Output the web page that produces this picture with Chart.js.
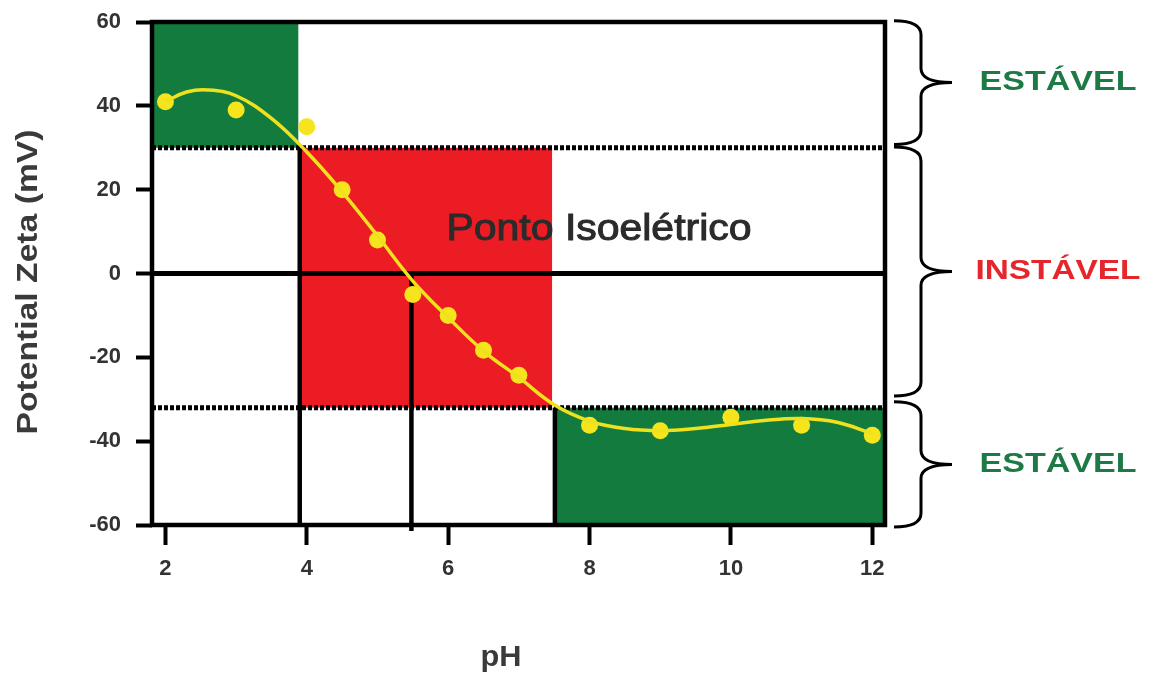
<!DOCTYPE html>
<html>
<head>
<meta charset="utf-8">
<script src="https://cdn.jsdelivr.net/npm/chart.js@4"></script>
<style>
  body { margin: 0; background: #fff; }
  #wrap { width: 1150px; height: 676px; }
</style>
</head>
<body>
<div id="wrap"><canvas id="chart"></canvas></div>
<script>
// measured points
const phPoints = [2, 3, 4, 4.5, 5, 5.5, 6, 6.5, 7, 8, 9, 10, 11, 12];
const zetaPoints = [41, 39, 35, 20, 8, -5, -10, -18.3, -24.3, -36.2, -37.5, -34.3, -36.2, -38.6];

// fitted curve
const phFit = [2, 2.3, 2.6, 3, 3.5, 4, 4.5, 5, 5.5, 6, 6.5, 7, 7.5, 8, 8.5, 9, 9.5, 10, 10.5, 11, 11.5, 12];
const zetaFit = [41, 43.3, 43.8, 42.4, 37, 29, 19.5, 9, -1.8, -10.5, -18.5, -24.8, -31.3, -35.2, -37, -37.5, -37, -36, -35, -34.6, -35.5, -38.2];

const xTicks = [2, 4, 6, 8, 10, 12];
const yTicks = [-60, -40, -20, 0, 20, 40, 60];

// zones (stable / unstable)
const zoneLabels = ["ESTÁVEL", "INSTÁVEL", "ESTÁVEL"];
const zoneColors = ["#1d7a45", "#e5262c", "#1d7a45"];
const braceTop = [60.3, 30.2, -30.6];
const braceBottom = [30.8, -29.2, -60.5];

// shaded boxes: [xFrom, xTo, yFrom, yTo]
const boxX0 = [1.81, 3.91, 7.53];
const boxX1 = [3.88, 7.47, 12.18];
const boxY0 = [30, -32, -60];
const boxY1 = [60, 30, -32];
const boxColors = ["#137b3e", "#ec1c24", "#137b3e"];

// black lines
const dottedY = [30, -32];
const vLineX = [3.9, 5.48, 7.51];
const vLineTop = [30, 0, -32];

const axisFont = "'Liberation Sans', Arial, sans-serif";

function fitText(ctx, text, x, y, w, rot, stroke) {
  ctx.save();
  ctx.translate(x, y);
  if (rot) ctx.rotate(rot);
  const m = ctx.measureText(text).width;
  ctx.scale(w / m, 1);
  ctx.fillText(text, 0, 0);
  if (stroke) {
    ctx.strokeStyle = ctx.fillStyle;
    ctx.lineWidth = stroke;
    ctx.strokeText(text, 0, 0);
  }
  ctx.restore();
}

function noPad(s) {
  s.paddingTop = 0;
  s.paddingBottom = 0;
  s.paddingLeft = 0;
  s.paddingRight = 0;
}

const decor = {
  id: "decor",
  beforeDatasetsDraw(chart) {
    const { ctx, chartArea: a, scales: { x, y } } = chart;
    ctx.save();
    boxColors.forEach((c, i) => {
      const l = x.getPixelForValue(boxX0[i]), r = x.getPixelForValue(boxX1[i]);
      const t = y.getPixelForValue(boxY1[i]), b = y.getPixelForValue(boxY0[i]);
      ctx.fillStyle = c;
      ctx.fillRect(l, t, r - l, b - t);
    });

    ctx.fillStyle = "#2b2b2b";
    ctx.font = "36px " + axisFont;
    ctx.textAlign = "center";
    ctx.textBaseline = "alphabetic";
    fitText(ctx, "Ponto Isoelétrico", 599, 240, 305, 0, 1);

    ctx.strokeStyle = "#000";
    ctx.lineWidth = 4.5;
    vLineX.forEach((v, i) => {
      const px = x.getPixelForValue(v);
      ctx.beginPath();
      ctx.moveTo(px, y.getPixelForValue(vLineTop[i]));
      ctx.lineTo(px, a.bottom + (i === 1 ? 6 : 0));
      ctx.stroke();
    });

    ctx.lineWidth = 5;
    ctx.beginPath();
    ctx.moveTo(a.left, y.getPixelForValue(0));
    ctx.lineTo(a.right, y.getPixelForValue(0));
    ctx.stroke();

    ctx.setLineDash([4, 2]);
    dottedY.forEach(v => {
      const py = y.getPixelForValue(v);
      ctx.beginPath();
      ctx.moveTo(a.left, py);
      ctx.lineTo(a.right, py);
      ctx.stroke();
    });
    ctx.setLineDash([]);

    ctx.lineWidth = 4.5;
    ctx.strokeRect(a.left, a.top, a.right - a.left, a.bottom - a.top);
    ctx.restore();
  },
  afterDraw(chart) {
    const { ctx, chartArea: a, scales: { y } } = chart;
    ctx.save();
    // braces
    const x0 = a.right + 9, xm = x0 + 27, xt = x0 + 58, r = 14;
    ctx.strokeStyle = "#000";
    ctx.lineWidth = 3;
    zoneLabels.forEach((lab, i) => {
      const yt = y.getPixelForValue(braceTop[i]);
      const yb = y.getPixelForValue(braceBottom[i]);
      const ym = (yt + yb) / 2;
      ctx.beginPath();
      ctx.moveTo(x0, yt);
      ctx.quadraticCurveTo(xm, yt, xm, yt + r);
      ctx.lineTo(xm, ym - r);
      ctx.quadraticCurveTo(xm, ym, xt, ym);
      ctx.quadraticCurveTo(xm, ym, xm, ym + r);
      ctx.lineTo(xm, yb - r);
      ctx.quadraticCurveTo(xm, yb, x0, yb);
      ctx.stroke();

      ctx.fillStyle = zoneColors[i];
      ctx.font = "bold 27px " + axisFont;
      ctx.textAlign = "center";
      ctx.textBaseline = "middle";
      fitText(ctx, lab, 1058, ym, i === 1 ? 165 : 157);
    });

    // axis titles
    ctx.fillStyle = "#3a3a3a";
    ctx.font = "bold 29px " + axisFont;
    ctx.textAlign = "center";
    ctx.textBaseline = "middle";
    fitText(ctx, "Potential Zeta (mV)", 29, 282, 305, -Math.PI / 2);
    ctx.textBaseline = "alphabetic";
    fitText(ctx, "pH", 501, 666, 41);
    ctx.restore();
  }
};

new Chart(document.getElementById("chart"), {
  type: "line",
  data: {
    datasets: [
      {
        label: "fit",
        data: phFit.map((v, i) => ({ x: v, y: zetaFit[i] })),
        borderColor: "#eee21e",
        borderWidth: 3.5,
        pointRadius: 0,
        tension: 0.4,
        fill: false
      },
      {
        label: "Potential Zeta",
        data: phPoints.map((v, i) => ({ x: v, y: zetaPoints[i] })),
        showLine: false,
        pointRadius: 8.5,
        pointBackgroundColor: "#f6e41c",
        pointBorderWidth: 0,
        borderColor: "#f6e41c"
      }
    ]
  },
  options: {
    responsive: true,
    maintainAspectRatio: false,
    animation: false,
    layout: { padding: { left: 0, top: 22, right: 265, bottom: 0 } },
    plugins: { legend: { display: false }, tooltip: { enabled: false } },
    scales: {
      x: {
        type: "linear",
        min: 1.81,
        max: 12.18,
        afterBuildTicks: s => { s.ticks = xTicks.map(v => ({ value: v })); },
        afterFit: s => { s.height = 151; noPad(s); },
        border: { display: false },
        grid: { drawOnChartArea: false, drawTicks: true, tickLength: 20, tickWidth: 4, tickColor: "#000" },
        ticks: { color: "#333", padding: 11, font: { family: axisFont, size: 22, weight: "bold" }, maxRotation: 0 }
      },
      y: {
        min: -60,
        max: 60,
        afterBuildTicks: s => { s.ticks = yTicks.map(v => ({ value: v })); },
        afterFit: s => { s.width = 152; noPad(s); },
        border: { display: false },
        grid: { drawOnChartArea: false, drawTicks: true, tickLength: 16, tickWidth: 4, tickColor: "#000" },
        ticks: { color: "#333", padding: 15, font: { family: axisFont, size: 22, weight: "bold" } }
      }
    }
  },
  plugins: [decor]
});
</script>
</body>
</html>
